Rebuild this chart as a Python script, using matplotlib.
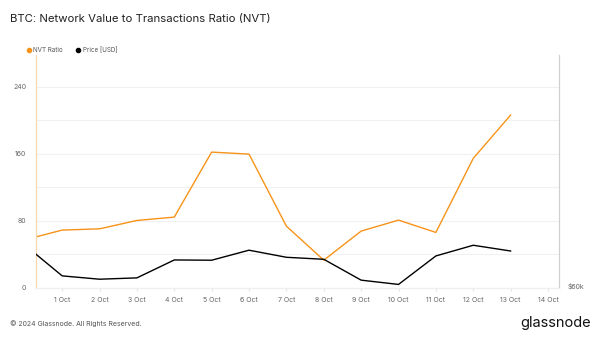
import numpy as np
import matplotlib
matplotlib.use('Agg')
import matplotlib.pyplot as plt
from matplotlib.lines import Line2D

plt.rcParams['font.family'] = ['Inter', 'DejaVu Sans']

# daily values, 30 Sep .. 13 Oct 2024
days = ['30 Sep', '1 Oct', '2 Oct', '3 Oct', '4 Oct', '5 Oct', '6 Oct', '7 Oct',
        '8 Oct', '9 Oct', '10 Oct', '11 Oct', '12 Oct', '13 Oct']
nvt = [57.1, 68.7, 70.2, 80.2, 84.2, 161.8, 159.4, 73.4, 32.8, 67.5, 80.6, 65.9, 154.3, 206.0]
price = [63080, 60770, 60520, 60620, 61960, 61940, 62690, 62160, 62010, 60450, 60130,
         62260, 63060, 62630]
tick_labels = ['1 Oct', '2 Oct', '3 Oct', '4 Oct', '5 Oct', '6 Oct', '7 Oct', '8 Oct',
               '9 Oct', '10 Oct', '11 Oct', '12 Oct', '13 Oct', '14 Oct']
left_ticks = [0, 80, 160, 240]

orange = '#f7931a'
x = np.arange(len(days))

fig = plt.figure(figsize=(6, 3.38), dpi=100)
ax = fig.add_axes([0.06, 0.149, 0.872, 0.688])
ax2 = ax.twinx()

ax.plot(x, nvt, color=orange, lw=1.0, zorder=3)
ax2.plot(x, price, color='black', lw=1.0, zorder=3)

ax.set_xlim(0.3, 14.3)
ax.set_ylim(0, 277.6)
ax2.set_ylim(59890, 77280)

ax.set_yticks(np.arange(0, 241, 40))
ax.set_yticklabels([str(v) if v in left_ticks else '' for v in range(0, 241, 40)])
ax.grid(axis='y', color='#f1f1f1', lw=0.8)
ax.set_axisbelow(True)
ax.set_xticks(range(1, 15))
ax.set_xticklabels(tick_labels)
ax.tick_params(axis='x', length=2, color='#e6e6e6', labelsize=5, labelcolor='#666666', pad=5)
ax.tick_params(axis='y', length=0, labelsize=5, labelcolor='#666666', pad=7)

ax2.set_yticks([60000])
ax2.set_yticklabels(['$60k'])
ax2.tick_params(axis='y', length=0, labelsize=5, labelcolor='#666666', pad=6)

for a in (ax, ax2):
    a.spines['top'].set_visible(False)
    a.spines['left'].set_color('#fcd9ac')
    a.spines['right'].set_color('#d0d0d0')
    a.spines['bottom'].set_color('#eeeeee')
    a.patch.set_visible(False)

fig.text(0.017, 0.945, 'BTC: Network Value to Transactions Ratio (NVT)', fontsize=8.2,
         color='#222222', va='center')

handles = [Line2D([], [], marker='o', ls='', color=orange, markersize=3),
           Line2D([], [], marker='o', ls='', color='black', markersize=3)]
fig.legend(handles, ['NVT Ratio', 'Price [USD]'], loc='center left',
           bbox_to_anchor=(0.033, 0.852), ncol=2, frameon=False, fontsize=4.5,
           handletextpad=0.2, columnspacing=2.0, labelcolor='#555555', handlelength=1)

fig.text(0.017, 0.044, '\u00a9 2024 Glassnode. All Rights Reserved.', fontsize=5.0,
         color='#555555', va='center')
fig.text(0.985, 0.044, 'glassnode', fontsize=10.5, color='#111111', va='center', ha='right')

fig.savefig('out.png', dpi=100)
